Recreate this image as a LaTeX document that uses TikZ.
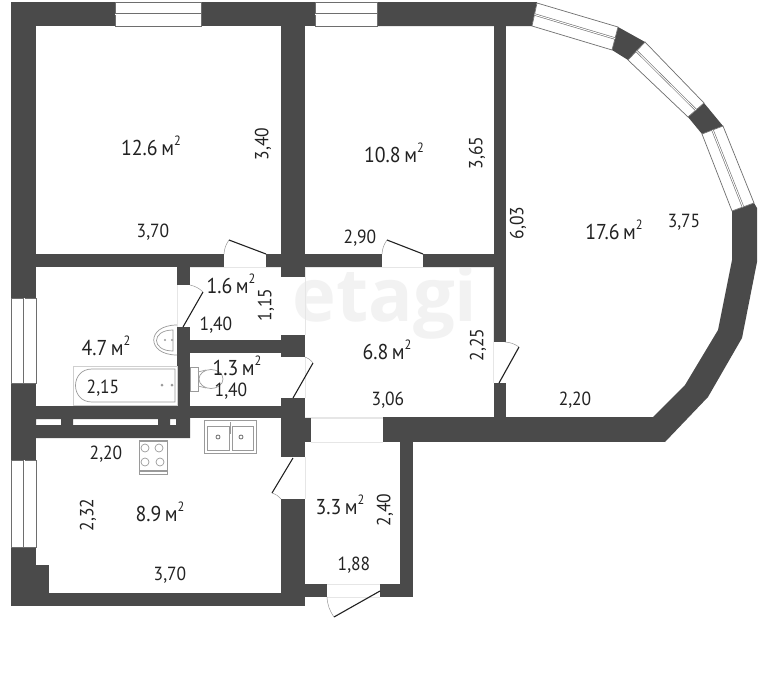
\documentclass[tikz,border=0pt]{standalone}
\usepackage{fontspec}
\setmainfont{PT Sans}[FakeStretch=0.92]
\newfontfamily\wmfont{Open Sans}
\definecolor{wallc}{HTML}{4A4A4A}
\definecolor{linec}{HTML}{6E6E6E}
\definecolor{faintc}{HTML}{E6E6E6}
\definecolor{fixc}{HTML}{9A9A9A}
\definecolor{inkc}{HTML}{222222}
\newcommand{\sqm}{\,м\raisebox{0.45em}{\fontsize{13.5}{13.5}\selectfont 2}}
\tikzset{
  wall/.style={fill=wallc,draw=none},
  win/.style={draw=linec,line width=0.7pt,fill=white},
  winmid/.style={draw=linec,line width=0.6pt,double=white,double distance=1pt},
  leaf/.style={draw=inkc,line width=1.1pt},
  swing/.style={draw=fixc,line width=0.5pt},
  faint/.style={draw=faintc,line width=0.6pt},
  fix/.style={draw=fixc,line width=0.7pt,fill=white},
  lab/.style={text=inkc,font=\fontsize{21.5}{23}\selectfont,inner sep=0pt},
  dim/.style={lab,font=\fontsize{19}{22}\selectfont},
  vdim/.style={dim,rotate=90}
}
\begin{document}
\begin{tikzpicture}[x=1pt,y=-1pt]
\useasboundingbox (0,0) rectangle (768,688);
\fill[white] (0,0) rectangle (768,688);
% watermark
\node[text=black!5,font=\wmfont\bfseries\fontsize{74}{74}\selectfont,inner sep=0pt] (wm) at (385,302) {etagi};
% faint opening lines
\draw[faint] (305,267)--(305,335) (305,267)--(493,267) (493,267)--(493,383)
  (311,418)--(383,418) (311,442)--(383,442) (224,267)--(266,267)
  (305,357)--(305,398) (305,457)--(305,499) (327,584)--(380,584) (327,597)--(380,597)
  (177,285)--(177,327) (190,267)--(281,267) (305,417)--(493,417);
% straight walls
\fill[wall] (11,2) rectangle (36,298);
\fill[wall] (36,2) rectangle (115,26);
\fill[wall] (201,2) rectangle (315,26);
\fill[wall] (377,2)--(537,2)--(532,26)--(377,26)--cycle;
\fill[wall] (281,26) rectangle (305,277);
\fill[wall] (494,26) rectangle (506,342);
\fill[wall] (494,383) rectangle (506,420);
\fill[wall] (36,254) rectangle (224,267);
\fill[wall] (266,254) rectangle (382,267);
\fill[wall] (423,254) rectangle (494,267);
\fill[wall] (177,267) rectangle (190,285);
\fill[wall] (177,327) rectangle (190,438);
\fill[wall] (190,340) rectangle (281,353);
\fill[wall] (281,335) rectangle (305,357);
\fill[wall] (190,406) rectangle (281,418);
\fill[wall] (281,398) rectangle (305,457);
\fill[wall] (305,418) rectangle (311,442);
\fill[wall,even odd rule] (36,406) rectangle (190,438)
  (36,419) rectangle (61,425) (73,419) rectangle (158,425) (170,419) rectangle (176,425);
\fill[wall] (11,383) rectangle (36,460);
\fill[wall] (11,547) rectangle (36,606);
\fill[wall] (36,565) rectangle (49,606);
\fill[wall] (36,593) rectangle (305,606);
\fill[wall] (281,499) rectangle (305,606);
\fill[wall] (305,584) rectangle (327,597);
\fill[wall] (380,584) rectangle (413,597);
\fill[wall] (400,418) rectangle (413,597);
\fill[wall] (383,417) rectangle (665,442);
% curved wall
\fill[wall] (754,203)--(757,208)--(757,262)--(742,338)--(708,397)--(665,442)--(653,417)--(685,385)--(718,330)--(732,260)--(732,211)--cycle;
\fill[wall] (618,27)--(645,42)--(628,60)--(612,50)--cycle;
\fill[wall] (704,103)--(723,126)--(702,134)--(688,117)--cycle;
% curved windows
\draw[win] (537,3)--(618,27)--(612,50)--(532,26)--cycle;
\draw[winmid] (534.5,14.5)--(615,38.5);
\draw[win] (645,42)--(704,103)--(688,117)--(628,60)--cycle;
\draw[winmid] (636.5,51)--(696,110);
\draw[win] (723,126)--(754,203)--(732,211)--(702,134)--cycle;
\draw[winmid] (712.5,130)--(743,207);
% straight windows
\draw[win] (115,2) rectangle (201,26);
\draw[winmid] (115,14)--(201,14);
\draw[win] (315,2) rectangle (377,26);
\draw[winmid] (315,14)--(377,14);
\draw[win] (11,298) rectangle (36,383);
\draw[winmid] (24,298)--(24,383);
\draw[win] (11,460) rectangle (36,547);
\draw[winmid] (24,460)--(24,547);
% doors
\coordinate (d1a) at (266,254); \coordinate (d1b) at (229,240); \coordinate (d1c) at (224,254);
\draw[leaf] (d1a)--(d1b); \draw[swing] (d1b) to[bend right=15] (d1c);
\coordinate (d2a) at (423,254); \coordinate (d2b) at (387,240); \coordinate (d2c) at (382,254);
\draw[leaf] (d2a)--(d2b); \draw[swing] (d2b) to[bend right=15] (d2c);
\coordinate (d3a) at (499,383); \coordinate (d3b) at (519,347); \coordinate (d3c) at (505,342);
\draw[leaf] (d3a)--(d3b); \draw[swing] (d3b) to[bend right=15] (d3c);
\coordinate (d4a) at (183,327); \coordinate (d4b) at (203,292); \coordinate (d4c) at (190,285);
\draw[leaf] (d4a)--(d4b); \draw[swing] (d4b) to[bend right=15] (d4c);
\coordinate (d5a) at (293,398); \coordinate (d5b) at (313,363); \coordinate (d5c) at (305,357);
\draw[leaf] (d5a)--(d5b); \draw[swing] (d5b) to[bend right=15] (d5c);
\coordinate (d6a) at (293,458); \coordinate (d6b) at (272,493); \coordinate (d6c) at (281,499);
\draw[leaf] (d6a)--(d6b); \draw[swing] (d6b) to[bend left=15] (d6c);
\coordinate (d7a) at (380,591); \coordinate (d7b) at (334,617); \coordinate (d7c) at (327,597);
\draw[leaf] (d7a)--(d7b); \draw[swing] (d7b) to[bend left=15] (d7c);
% bath
\draw[fix,draw=faintc!70!fixc] (73,366) rectangle (177,405);
\draw[fix] (175,369)--(175,402)--(92,402) .. controls (70,402) and (70,369) .. (92,369)--cycle;
\fill[fixc] (162,385) circle (1.5) (172,385) circle (1.5);
% basin
\draw[fix] (177,325) .. controls (146,325) and (146,355) .. (177,355);
\draw[fix] (173,330) .. controls (151,330) and (151,351) .. (173,351)--cycle;
\fill[fixc] (165,340) circle (1.2) (172,340) circle (1.2);
% toilet
\draw[fix] (190,367) rectangle (198,391);
\draw[fix] (198,372) -- (206,370) (198,386) -- (206,388);
\draw[fix] (211,379) ellipse (12 and 9.5);
% kitchen sink
\draw[fix,line width=1pt] (204,420) rectangle (256,453);
\draw[fix] (207,426) rectangle (229,450);
\draw[fix] (232,426) rectangle (253,450);
\draw[draw=linec,line width=0.8pt] (218,437) circle (2) (241,437) circle (2);
\draw[fixc,line width=1pt] (230.5,422)--(230.5,434);
% stove
\draw[fix] (139,440) rectangle (167,474);
\draw[fixc,line width=1.2pt] (139,471)--(167,471) (139,441)--(167,441);
\draw[fixc,line width=0.7pt] (145,448) circle (4) (159,448) circle (4) (145,462) circle (4) (160,462) circle (4);
% labels
\node[lab] (a1) at (151,146) {12.6\sqm};
\node[vdim] (t1) at (263,144) {3,40};
\node[dim] (t2) at (153,232) {3,70};
\node[lab] (a2) at (394,153) {10.8\sqm};
\node[vdim] (t3) at (477,153) {3,65};
\node[dim] (t4) at (360,238) {2,90};
\node[vdim] (t5) at (518,223) {6,03};
\node[lab] (a3) at (614,230) {17.6\sqm};
\node[dim] (t6) at (684,222) {3,75};
\node[lab] (a4) at (231,284) {1.6\sqm};
\node[vdim] (t7) at (266,305) {1,15};
\node[dim] (t8) at (216,325) {1,40};
\node[lab] (a5) at (106,346) {4.7\sqm};
\node[lab] (a6) at (387,350) {6.8\sqm};
\node[vdim] (t9) at (478,345) {2,25};
\node[lab] (a7) at (237,366) {1.3\sqm};
\node[dim] (t10) at (231,391) {1,40};
\node[dim] (t11) at (103,388) {2,15};
\node[dim] (t12) at (388,400) {3,06};
\node[dim] (t13) at (575,400) {2,20};
\node[dim] (t14) at (106,454) {2,20};
\node[lab] (a8) at (340,505) {3.3\sqm};
\node[vdim] (t15) at (385,510) {2,40};
\node[lab] (a9) at (160,512) {8.9\sqm};
\node[vdim] (t16) at (88,515) {2,32};
\node[dim] (t17) at (170,575) {3,70};
\node[dim] (t18) at (354,565) {1,88};
\end{tikzpicture}
\end{document}
